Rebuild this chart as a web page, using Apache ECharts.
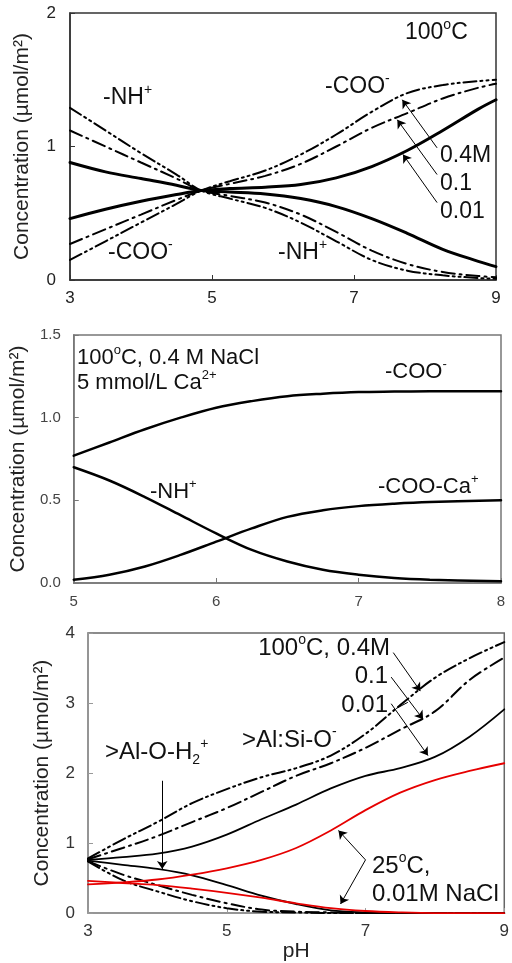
<!DOCTYPE html>
<html><head><meta charset="utf-8">
<script src="https://cdn.jsdelivr.net/npm/echarts@6/dist/echarts.min.js"></script>
<style>html,body{margin:0;padding:0;background:#fff}#c{width:512px;height:963px}</style>
</head><body><div id="c"></div>
<script>
// ---------- Panel 1: 100 C, three NaCl strengths ----------
const p1_pH      = [3, 3.5, 4, 4.5, 4.85, 5.25, 5.75, 6.25, 6.75, 7.25, 7.75, 8.25, 8.75, 9];
const p1_COO_001 = [0.46, 0.53, 0.59, 0.64, 0.67, 0.685, 0.695, 0.715, 0.765, 0.85, 0.97, 1.12, 1.28, 1.35];
const p1_COO_01  = [0.27, 0.38, 0.49, 0.60, 0.67, 0.72, 0.78, 0.87, 1.00, 1.14, 1.25, 1.36, 1.44, 1.47];
const p1_COO_04  = [0.15, 0.29, 0.43, 0.57, 0.67, 0.74, 0.82, 0.94, 1.09, 1.26, 1.40, 1.46, 1.49, 1.50];
const p1_NH_001  = [0.88, 0.81, 0.76, 0.71, 0.67, 0.66, 0.645, 0.61, 0.55, 0.46, 0.35, 0.23, 0.14, 0.10];
const p1_NH_01   = [1.12, 1.00, 0.88, 0.76, 0.67, 0.63, 0.58, 0.49, 0.36, 0.22, 0.12, 0.06, 0.03, 0.02];
const p1_NH_04   = [1.29, 1.12, 0.95, 0.79, 0.67, 0.61, 0.54, 0.43, 0.29, 0.15, 0.07, 0.035, 0.015, 0.01];
const p1_xTicks  = [3, 5, 7, 9];
const p1_yTicks  = [0, 1, 2];

// ---------- Panel 2: 100 C, 0.4 M NaCl, 5 mmol/L Ca ----------
const p2_pH    = [5, 5.25, 5.5, 5.75, 6, 6.25, 6.5, 6.75, 7, 7.25, 7.5, 8];
const p2_COO   = [0.77, 0.85, 0.93, 1.00, 1.06, 1.10, 1.13, 1.145, 1.155, 1.158, 1.16, 1.16];
const p2_NH    = [0.70, 0.62, 0.52, 0.41, 0.30, 0.20, 0.13, 0.08, 0.05, 0.03, 0.02, 0.01];
const p2_COOCa = [0.02, 0.05, 0.10, 0.17, 0.25, 0.33, 0.40, 0.44, 0.465, 0.48, 0.49, 0.50];
const p2_xTicks = [5, 6, 7, 8];
const p2_yTicks = [0, 0.5, 1.0, 1.5];

// ---------- Panel 3: kaolinite-type surface sites ----------
const p3_pH        = [3, 3.5, 4, 4.5, 5, 5.5, 6, 6.5, 7, 7.5, 8, 8.5, 9];
const p3_AlSi_001  = [0.76, 0.80, 0.85, 0.95, 1.12, 1.34, 1.55, 1.78, 1.96, 2.07, 2.23, 2.52, 2.91];
const p3_AlSi_01   = [0.77, 0.93, 1.10, 1.30, 1.50, 1.73, 1.96, 2.14, 2.36, 2.62, 2.88, 3.33, 3.65];
const p3_AlSi_04   = [0.78, 1.05, 1.30, 1.57, 1.77, 1.94, 2.07, 2.25, 2.56, 2.97, 3.36, 3.64, 3.87];
const p3_AlOH_001  = [0.75, 0.69, 0.63, 0.54, 0.40, 0.25, 0.13, 0.04, 0.01, 0, 0, 0, 0];
const p3_AlOH_01   = [0.74, 0.55, 0.40, 0.26, 0.14, 0.05, 0.02, 0.01, 0, 0, 0, 0, 0];
const p3_AlOH_04   = [0.74, 0.47, 0.31, 0.17, 0.07, 0.02, 0.01, 0, 0, 0, 0, 0, 0];
const p3_AlSi_25C  = [0.41, 0.44, 0.48, 0.55, 0.64, 0.76, 0.93, 1.18, 1.47, 1.72, 1.90, 2.03, 2.14];
const p3_AlOH_25C  = [0.46, 0.43, 0.40, 0.35, 0.29, 0.22, 0.14, 0.07, 0.03, 0.01, 0, 0, 0];
const p3_xTicks = [3, 5, 7, 9];
const p3_yTicks = [0, 1, 2, 3, 4];

const FONT = '"Liberation Sans", Arial, Helvetica, sans-serif';
const DASHDOT = [13, 5, 2, 5];
const DASHDOTDOT = [13, 4, 2, 4, 2, 4];

function pairs(xs, ys) { return xs.map((x, i) => [x, ys[i]]); }
function line(g, name, xs, ys, color, width, type, extra) {
  return Object.assign({
    type: 'line', name: name, xAxisIndex: g, yAxisIndex: g,
    data: pairs(xs, ys), smooth: 0.35, symbol: 'none', silent: true,
    lineStyle: { color: color, width: width, type: type, cap: 'round' }
  }, extra || {});
}
function arrows(list) {
  return {
    silent: true, symbol: ['none', 'arrow'], symbolSize: 8,
    label: { show: false },
    lineStyle: { color: '#000', width: 1, type: 'solid' },
    data: list.map(a => [
      { coord: a[0], symbol: 'none' },
      { coord: a[1], symbol: a[2] === false ? 'none' : 'arrow' }
    ])
  };
}
function xAxis(g, ticks, opts) {
  return Object.assign({
    type: 'value', gridIndex: g, min: ticks[0], max: ticks[ticks.length - 1],
    interval: ticks[1] - ticks[0], splitLine: { show: false },
    axisTick: { show: true, inside: true, length: 5, lineStyle: { color: opts.c } },
    axisLine: { show: true, lineStyle: { color: opts.c, width: 1.5 } },
    axisLabel: { color: opts.lc, fontSize: opts.fs, fontFamily: FONT, margin: opts.m }
  }, opts.more || {});
}
function yAxis(g, ticks, opts) {
  return {
    type: 'value', gridIndex: g, min: ticks[0], max: ticks[ticks.length - 1],
    interval: ticks[1] - ticks[0], splitLine: { show: false },
    axisTick: { show: true, inside: true, length: 5, lineStyle: { color: opts.c } },
    axisLine: { show: true, lineStyle: { color: opts.c, width: 1.5 } },
    axisLabel: { color: opts.lc, fontSize: opts.fs, fontFamily: FONT, margin: opts.m, formatter: opts.fmt },
    name: 'Concentration (µmol/m²)', nameLocation: 'middle', nameRotate: 90, nameGap: opts.gap,
    nameTextStyle: { fontSize: 21, fontFamily: FONT, color: '#222' }
  };
}
function rich(fs) {
  const ss = Math.round(fs * 0.6);
  return {
    n: { fontSize: fs, fontFamily: FONT, color: '#111', lineHeight: fs + 6 },
    s: { fontSize: ss, fontFamily: FONT, color: '#111', lineHeight: ss + 6, verticalAlign: 'top' },
    b: { fontSize: ss, fontFamily: FONT, color: '#111', lineHeight: ss + 2, verticalAlign: 'bottom' }
  };
}
function txt(x, y, text, fs, align) {
  return {
    type: 'text', x: x, y: y, z: 100, silent: true,
    style: { text: text, rich: rich(fs), fill: '#111', align: align || 'left', verticalAlign: 'middle',
             font: fs + 'px ' + FONT }
  };
}

const chart = echarts.init(document.getElementById('c'), null, { renderer: 'canvas' });
chart.setOption({
  animation: false,
  backgroundColor: '#fff',
  grid: [
    { left: 70, top: 13, width: 426, height: 267, show: true, borderColor: '#333', borderWidth: 1.5 },
    { left: 68, top: 335, width: 433, height: 248, show: true, borderColor: '#777', borderWidth: 1.5 },
    { left: 88, top: 633, width: 419, height: 284, show: true, borderColor: '#666', borderWidth: 1.5 }
  ],
  xAxis: [
    xAxis(0, p1_xTicks, { c: '#333', lc: '#222', fs: 17, m: 10 }),
    xAxis(1, p2_xTicks, { c: '#777', lc: '#444', fs: 15, m: 11 }),
    xAxis(2, p3_xTicks, { c: '#999', lc: '#333', fs: 17, m: 10,
      more: { name: 'pH', nameLocation: 'middle', nameGap: 24, nameTextStyle: { fontSize: 21, fontFamily: FONT, color: '#222' } } })
  ],
  yAxis: [
    yAxis(0, p1_yTicks, { c: '#333', lc: '#222', fs: 17, m: 14, gap: 37 }),
    yAxis(1, p2_yTicks, { c: '#777', lc: '#444', fs: 15, m: 13, gap: 40, fmt: v => v.toFixed(1) }),
    yAxis(2, p3_yTicks, { c: '#999', lc: '#333', fs: 17, m: 13, gap: 35 })
  ],
  series: [
    line(0, 'COO- 0.01M', p1_pH, p1_COO_001, '#000', 3, 'solid', {
      markLine: arrows([[[8.17, 0.99], [7.68, 1.35]], [[8.17, 0.79], [7.61, 1.20]], [[8.17, 0.58], [7.69, 0.94]]])
    }),
    line(0, 'COO- 0.1M', p1_pH, p1_COO_01, '#000', 2, DASHDOT),
    line(0, 'COO- 0.4M', p1_pH, p1_COO_04, '#000', 2, DASHDOTDOT),
    line(0, 'NH+ 0.01M', p1_pH, p1_NH_001, '#000', 3, 'solid'),
    line(0, 'NH+ 0.1M', p1_pH, p1_NH_01, '#000', 2, DASHDOT),
    line(0, 'NH+ 0.4M', p1_pH, p1_NH_04, '#000', 2, DASHDOTDOT),

    line(1, '-COO-', p2_pH, p2_COO, '#000', 2.5, 'solid'),
    line(1, '-NH+', p2_pH, p2_NH, '#000', 2.5, 'solid'),
    line(1, '-COO-Ca+', p2_pH, p2_COOCa, '#000', 2.5, 'solid'),

    line(2, 'AlSi 0.01', p3_pH, p3_AlSi_001, '#000', 1.8, 'solid', {
      markLine: arrows([
        [[7.40, 3.72], [7.79, 3.17]],
        [[7.37, 3.37], [7.83, 2.77]],
        [[7.37, 2.99], [7.90, 2.25]],
        [[7.44, 2.92], [7.61, 3.01], false],
        [[4.07, 1.89], [4.07, 0.63]],
        [[7.00, 0.76], [6.61, 1.18]],
        [[7.00, 0.76], [6.64, 0.13]]
      ])
    }),
    line(2, 'AlSi 0.1', p3_pH, p3_AlSi_01, '#000', 2, DASHDOT),
    line(2, 'AlSi 0.4', p3_pH, p3_AlSi_04, '#000', 2, DASHDOTDOT),
    line(2, 'AlOH 0.01', p3_pH, p3_AlOH_001, '#000', 1.8, 'solid'),
    line(2, 'AlOH 0.1', p3_pH, p3_AlOH_01, '#000', 2, DASHDOT),
    line(2, 'AlOH 0.4', p3_pH, p3_AlOH_04, '#000', 2, DASHDOTDOT),
    line(2, 'AlSi 25C', p3_pH, p3_AlSi_25C, '#e60000', 1.8, 'solid'),
    line(2, 'AlOH 25C', p3_pH, p3_AlOH_25C, '#e60000', 1.8, 'solid')
  ],
  graphic: { elements: [
    txt(405, 33, '{n|100}{s|o}{n|C}', 23),
    txt(325, 87, '{n|-COO}{s|-}', 23),
    txt(103, 98, '{n|-NH}{s|+}', 23),
    txt(440, 156, '{n|0.4M}', 23),
    txt(440, 184, '{n|0.1}', 23),
    txt(440, 212, '{n|0.01}', 23),
    txt(108, 253, '{n|-COO}{s|-}', 23),
    txt(278, 253, '{n|-NH}{s|+}', 23),

    txt(77, 358, '{n|100}{s|o}{n|C, 0.4 M NaCl}', 22),
    txt(77, 383, '{n|5 mmol/L Ca}{s|2+}', 22),
    txt(385, 372, '{n|-COO}{s|-}', 22),
    txt(378, 487, '{n|-COO-Ca}{s|+}', 22),
    txt(150, 492, '{n|-NH}{s|+}', 22),

    txt(390, 648, '{n|100}{s|o}{n|C, 0.4M}', 24, 'right'),
    txt(388, 676, '{n|0.1}', 24, 'right'),
    txt(388, 705, '{n|0.01}', 24, 'right'),
    txt(242, 740, '{n|>Al:Si-O}{s|-}', 24),
    txt(105, 752, '{n|>Al-O-H}{b|2}{s|+}', 24),
    txt(372, 866, '{n|25}{s|o}{n|C,}', 24),
    txt(372, 894, '{n|0.01M NaCl}', 24)
  ] }
});
</script>
</body></html>
